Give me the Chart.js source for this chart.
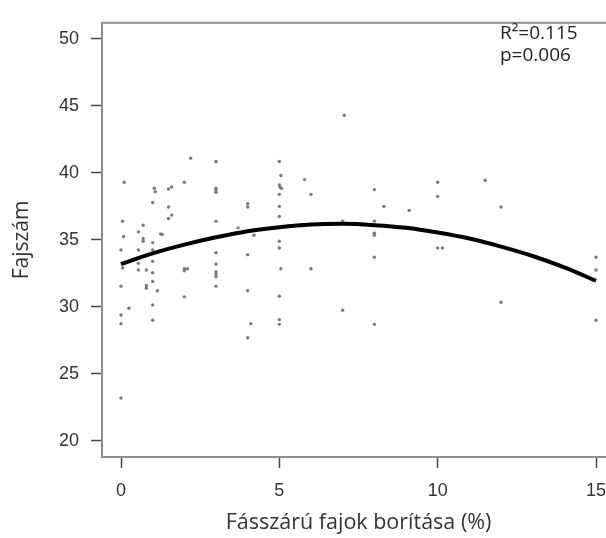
<!DOCTYPE html>
<html lang="hu">
<head>
    <meta charset="UTF-8">
    <title>Fajszám - fásszárú borítás</title>
    <style>
        html, body {
            margin: 0;
            padding: 0;
            background: #fff;
            overflow: hidden;
        }
        #wrap {
            width: 620px;
            height: 538px;
        }
    </style>
</head>
<body>
    <div id="wrap">
        <canvas id="scatterChart" width="620" height="538"></canvas>
    </div>

    <script src="https://cdn.jsdelivr.net/npm/chart.js"></script>
    <script>
        // observed points (cover %, species count)
        const coverX = [
            2.2, 3.0, 0.1, 1.05, 1.08, 1.5, 1.6, 2.0, 3.0, 3.0, 3.0, 1.0, 1.5, 4.0, 4.0,
            0.05, 1.5, 1.6, 3.0, 0.7, 0.55, 3.7, 1.25,
            7.05, 5.0, 5.05, 5.8, 5.0, 5.02, 5.07, 5.0, 6.0, 8.0, 10.0, 10.0, 5.0, 8.3, 9.1,
            5.0, 7.0, 8.0, 8.0, 11.5, 12.0,
            0.08, 0.7, 0.7, 1.0, 1.3, 0.0, 0.55, 1.0, 0.05, 0.55, 0.55, 0.8, 1.0, 1.0,
            2.0, 2.1, 2.0, 3.0, 3.0, 3.0, 3.0, 3.0, 3.0, 4.0, 4.2, 0.0, 0.8, 0.8, 1.0, 1.15,
            2.0, 4.0, 1.0, 0.25, 0.0, 0.0, 1.0, 4.1, 4.0, 0.0,
            5.0, 5.0, 8.0, 10.0, 10.15, 8.0, 5.05, 6.0, 5.0, 7.0, 5.0, 5.0, 8.0,
            15.0, 15.0, 12.0, 15.0
        ];
        const speciesY = [
            41.1, 40.85, 39.3, 38.85, 38.6, 38.8, 38.95, 39.3, 38.85, 38.7, 38.55, 37.8, 37.45, 37.7, 37.45,
            36.4, 36.6, 36.85, 36.4, 36.1, 35.6, 35.9, 35.45,
            44.3, 40.85, 39.8, 39.5, 39.1, 38.95, 38.85, 38.4, 38.4, 38.75, 39.3, 38.25, 37.5, 37.5, 37.2,
            36.75, 36.4, 36.4, 35.5, 39.45, 37.45,
            35.25, 35.1, 34.9, 34.8, 35.4, 34.25, 34.25, 34.25, 32.9, 33.25, 32.75, 32.75, 33.4, 32.55,
            32.85, 32.85, 32.7, 34.05, 33.2, 32.6, 32.45, 32.25, 31.55, 33.9, 35.35, 31.55, 31.6, 31.4, 31.9, 31.2,
            30.75, 31.2, 30.15, 29.9, 29.4, 28.75, 29.0, 28.75, 27.7, 23.2,
            34.9, 34.4, 35.35, 34.4, 34.4, 33.7, 32.85, 32.85, 30.8, 29.75, 29.05, 28.7, 28.7,
            33.7, 32.75, 30.35, 29.0
        ];

        // fitted curve
        const fitX = [0, 1, 2, 3, 4, 5, 6, 7, 8, 9, 10, 11, 12, 13, 14, 15];
        const fitY = [33.2, 34.0, 34.65, 35.2, 35.65, 35.95, 36.15, 36.2, 36.1, 35.9, 35.55, 35.1, 34.5, 33.8, 32.95, 31.95];

        const xTicks = [0, 5, 10, 15];
        const yTicks = [20, 25, 30, 35, 40, 45, 50];
        const statLines = ['R\u00B2=0.115', 'p=0.006'];

        const points = coverX.map((x, i) => ({ x: x, y: speciesY[i] }));
        const curve = fitX.map((x, i) => ({ x: x, y: fitY[i] }));

        // gray frame round the plot + stats text
        const framePlugin = {
            id: 'frame',
            afterDatasetsDraw(chart) {
                const a = chart.chartArea;
                const ctx = chart.ctx;
                ctx.save();
                ctx.strokeStyle = '#8e8e8e';
                ctx.lineWidth = 2;
                ctx.strokeRect(a.left, a.top, a.right - a.left, a.bottom - a.top);

                ctx.fillStyle = '#222';
                ctx.font = '19px "Open Sans", sans-serif';
                ctx.textAlign = 'left';
                ctx.textBaseline = 'alphabetic';
                ctx.fillText(statLines[0], 500, 39);
                ctx.fillText(statLines[1], 500, 61);
                ctx.restore();
            }
        };

        const ctx = document.getElementById('scatterChart').getContext('2d');
        new Chart(ctx, {
            type: 'scatter',
            data: {
                datasets: [
                    {
                        label: 'fit',
                        type: 'line',
                        data: curve,
                        borderColor: '#000',
                        borderWidth: 4,
                        pointRadius: 0,
                        fill: false,
                        cubicInterpolationMode: 'monotone',
                        order: 0
                    },
                    {
                        label: 'plots',
                        data: points,
                        backgroundColor: '#7a7a7a',
                        borderWidth: 0,
                        pointRadius: 1.7,
                        order: 1
                    }
                ]
            },
            options: {
                responsive: false,
                animation: false,
                layout: { padding: { top: 13, right: 5, left: 0, bottom: 0 } },
                plugins: {
                    legend: { display: false },
                    tooltip: { enabled: false }
                },
                scales: {
                    x: {
                        type: 'linear',
                        min: -0.6,
                        max: 15.6,
                        afterBuildTicks: (s) => { s.ticks = xTicks.map(v => ({ value: v })); },
                        afterFit: (s) => { s.height = 81; },
                        border: { display: false },
                        grid: {
                            drawOnChartArea: false,
                            drawTicks: true,
                            tickLength: 11,
                            tickColor: '#444',
                            tickWidth: 1.5
                        },
                        ticks: {
                            padding: 12,
                            color: '#333',
                            font: { family: '"Liberation Sans", Arial, sans-serif', size: 18 }
                        },
                        title: {
                            display: true,
                            text: 'Fásszárú fajok borítása (%)',
                            color: '#333',
                            font: { family: '"Open Sans", sans-serif', size: 21.5 },
                            padding: { top: 0, bottom: 2 }
                        }
                    },
                    y: {
                        type: 'linear',
                        min: 18.8,
                        max: 51.2,
                        afterBuildTicks: (s) => { s.ticks = yTicks.map(v => ({ value: v })); },
                        afterFit: (s) => { s.width = 102; },
                        border: { display: false },
                        grid: {
                            drawOnChartArea: false,
                            drawTicks: true,
                            tickLength: 11,
                            tickColor: '#444',
                            tickWidth: 1.5
                        },
                        ticks: {
                            padding: 12,
                            color: '#333',
                            font: { family: '"Liberation Sans", Arial, sans-serif', size: 18 }
                        },
                        title: {
                            display: true,
                            text: 'Fajszám',
                            color: '#333',
                            font: { family: '"Open Sans", sans-serif', size: 21 },
                            padding: { top: 9, bottom: 0 }
                        }
                    }
                }
            },
            plugins: [framePlugin]
        });
    </script>
</body>
</html>
